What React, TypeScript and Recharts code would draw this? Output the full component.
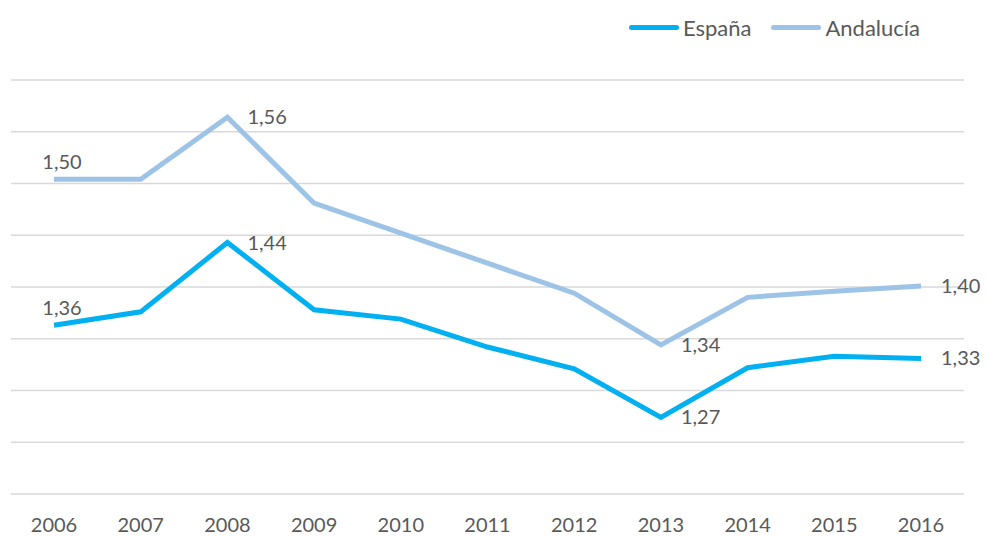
import { LineChart, Line, XAxis, YAxis, CartesianGrid } from 'recharts'

const years = ['2006', '2007', '2008', '2009', '2010', '2011', '2012', '2013', '2014', '2015', '2016']
const espana = [1.363, 1.376, 1.443, 1.378, 1.369, 1.342, 1.321, 1.274, 1.322, 1.333, 1.331]
const andalucia = [1.504, 1.504, 1.564, 1.481, 1.452, 1.423, 1.394, 1.344, 1.390, 1.396, 1.401]
const yTicks = [1.2, 1.25, 1.3, 1.35, 1.4, 1.45, 1.5, 1.55, 1.6]

// which points carry a value label, and where it sits
const labelled = [0, 2, 7, 10]
const labelAbove = [0]

const ESPANA = '#00B0F0'
const ANDALUCIA = '#9DC3E6'
const FONT = 'Lato, "Noto Sans", sans-serif'

const data = years.map((year, i) => ({ year, espana: espana[i], andalucia: andalucia[i] }))

const PointLabel = (props: any) => {
    const { x, y, value, index } = props
    if (!labelled.includes(index)) return null
    const text = Number(value).toFixed(2).replace('.', ',')
    const above = labelAbove.includes(index)
    return (
        <text
            x={above ? x + 8 : x + 20}
            y={above ? y - 15 : y + 2}
            textAnchor={above ? 'middle' : 'start'}
            dominantBaseline="middle"
            fill="#595959"
            fontSize={20}
            fontFamily={FONT}
        >
            {text}
        </text>
    )
}

const LegendItem = ({ color, label }: { color: string; label: string }) => (
    <div style={{ display: 'flex', alignItems: 'center', marginLeft: 20 }}>
        <div style={{ width: 50, height: 5, borderRadius: 3, background: color, marginRight: 4 }} />
        <span style={{ fontSize: 22, color: '#595959', fontFamily: FONT }}>{label}</span>
    </div>
)

export default function App() {
    return (
        <div style={{ position: 'absolute', left: 0, top: 0, width: 987, height: 536, background: '#fff' }}>
            <div style={{ position: 'absolute', top: 13, right: 67, display: 'flex', height: 28, alignItems: 'center' }}>
                <LegendItem color={ESPANA} label="España" />
                <LegendItem color={ANDALUCIA} label="Andalucía" />
            </div>
            <LineChart width={987} height={536} data={data} margin={{ top: 80, right: 23, left: 11, bottom: 0 }}>
                <CartesianGrid stroke="#D9D9D9" strokeWidth={1.5} vertical={false} />
                <XAxis
                    dataKey="year"
                    axisLine={false}
                    tickLine={false}
                    height={42}
                    interval={0}
                    padding={{ left: 43, right: 43 }}
                    tick={{ fontSize: 20, fill: '#595959', fontFamily: FONT, dy: 16 }}
                />
                <YAxis hide domain={[1.2, 1.6]} ticks={yTicks} />
                <Line
                    type="linear"
                    dataKey="andalucia"
                    stroke={ANDALUCIA}
                    strokeWidth={5}
                    dot={false}
                    label={<PointLabel />}
                    isAnimationActive={false}
                />
                <Line
                    type="linear"
                    dataKey="espana"
                    stroke={ESPANA}
                    strokeWidth={5}
                    dot={false}
                    label={<PointLabel />}
                    isAnimationActive={false}
                />
            </LineChart>
        </div>
    )
}
